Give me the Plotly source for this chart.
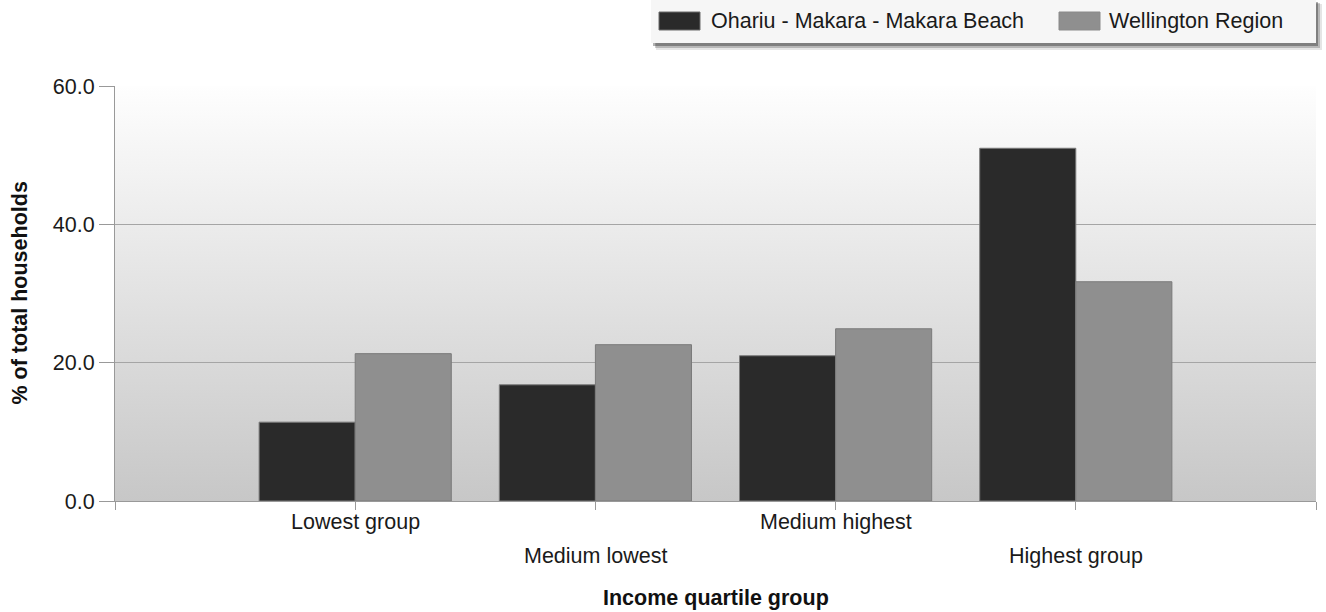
import base64
import plotly.graph_objects as go

categories = ["Lowest group", "Medium lowest", "Medium highest", "Highest group"]
series_names = ["Ohariu - Makara - Makara Beach", "Wellington Region"]
local_values = [11.4, 16.8, 21.0, 51.0]
region_values = [21.3, 22.6, 24.9, 31.7]
y_ticks = [0, 20, 40, 60]

colors = ["#2a2a2a", "#8f8f8f"]
FONT = "Liberation Sans, Arial, sans-serif"
FS = 21.5

xpos = list(range(1, len(categories) + 1))

fig = go.Figure()
for name, vals, col in zip(series_names, [local_values, region_values], colors):
    fig.add_trace(go.Bar(
        x=xpos, y=vals, name=name,
        marker=dict(color=col, line=dict(color="#7a7a7a", width=1)),
        showlegend=False,
    ))

svg = ('<svg xmlns="http://www.w3.org/2000/svg" width="10" height="100" preserveAspectRatio="none">'
       '<defs><linearGradient id="g" x1="0" y1="0" x2="0" y2="1">'
       '<stop offset="0" stop-color="#fefefe"/><stop offset="1" stop-color="#c7c7c7"/>'
       '</linearGradient></defs><rect width="10" height="100" fill="url(#g)"/></svg>')
uri = "data:image/svg+xml;base64," + base64.b64encode(svg.encode()).decode()

W, H = 1326, 612
ml, mr, mt, mb = 115, 10, 86, 111
ph = H - mt - mb

def py(pix):
    return (H - mb - pix) / ph

def px(pix):
    return (pix - ml) / (W - ml - mr)

annotations = []
for i, c in enumerate(categories):
    row_y = 522 if i % 2 == 0 else 556
    annotations.append(dict(x=xpos[i], xref="x", y=py(row_y), yref="paper", text=c,
                            showarrow=False, xanchor="center", yanchor="middle",
                            font=dict(family=FONT, size=FS, color="#1a1a1a")))

# axis titles
annotations.append(dict(x=0.5, xref="paper", y=py(598), yref="paper",
                        text="<b>Income quartile group</b>", showarrow=False,
                        xanchor="center", yanchor="middle",
                        font=dict(family=FONT, size=FS, color="#111111")))
annotations.append(dict(x=px(19), xref="paper", y=0.5, yref="paper",
                        text="<b>% of total households</b>", showarrow=False, textangle=-90,
                        xanchor="center", yanchor="middle",
                        font=dict(family=FONT, size=FS, color="#111111")))

# manual legend (box with soft shadow)
shapes = [
    dict(type="rect", xref="paper", yref="paper", x0=px(656), x1=px(1322), y0=py(50), y1=py(4),
         fillcolor="rgba(0,0,0,0.10)", line=dict(width=0)),
    dict(type="rect", xref="paper", yref="paper", x0=px(655), x1=px(1320), y0=py(48), y1=py(3),
         fillcolor="rgba(0,0,0,0.20)", line=dict(width=0)),
    dict(type="rect", xref="paper", yref="paper", x0=px(653), x1=px(1318), y0=py(46), y1=py(2),
         fillcolor="rgba(0,0,0,0.30)", line=dict(width=0)),
    dict(type="rect", xref="paper", yref="paper", x0=px(651), x1=px(1316), y0=py(43), y1=py(0),
         fillcolor="#f6f6f6", line=dict(width=0)),
    dict(type="rect", xref="paper", yref="paper", x0=px(659), x1=px(700), y0=py(30), y1=py(12),
         fillcolor=colors[0], line=dict(color="#6a6a6a", width=1)),
    dict(type="rect", xref="paper", yref="paper", x0=px(1059), x1=px(1100), y0=py(30), y1=py(12),
         fillcolor=colors[1], line=dict(color="#8a8a8a", width=1)),
]
for name, xl in zip(series_names, [709, 1107]):
    annotations.append(dict(x=px(xl), xref="paper", y=py(21), yref="paper", text=name,
                            showarrow=False, xanchor="left", yanchor="middle",
                            font=dict(family=FONT, size=FS, color="#1a1a1a")))

fig.update_layout(
    width=W, height=H,
    margin=dict(l=ml, r=mr, t=mt, b=mb, autoexpand=False),
    paper_bgcolor="white",
    plot_bgcolor="rgba(0,0,0,0)",
    barmode="group", bargap=0.2, bargroupgap=0,
    font=dict(family=FONT, size=FS, color="#1a1a1a"),
    images=[dict(source=uri, xref="paper", yref="paper", x=0, y=1, sizex=1, sizey=1,
                 sizing="stretch", layer="below", xanchor="left", yanchor="top")],
    shapes=shapes,
    annotations=annotations,
    xaxis=dict(range=[0, len(categories) + 1], tickvals=list(range(0, len(categories) + 2)),
               ticktext=[""] * (len(categories) + 2), ticks="outside", ticklen=8,
               tickcolor="#999999", showline=True, linecolor="#999999", linewidth=1,
               showgrid=False, zeroline=False),
    yaxis=dict(range=[0, 60], tickvals=y_ticks, tickformat=".1f", ticks="outside", ticklen=15,
               tickcolor="#999999", showline=True, linecolor="#999999", linewidth=1,
               showgrid=True, gridcolor="#a5a5a5", gridwidth=1, zeroline=False,
               tickfont=dict(family=FONT, size=FS, color="#1a1a1a")),
)

fig.write_html("out.html", config={"displayModeBar": False},
               post_script="document.body.style.margin='0';document.body.style.overflow='hidden';")
